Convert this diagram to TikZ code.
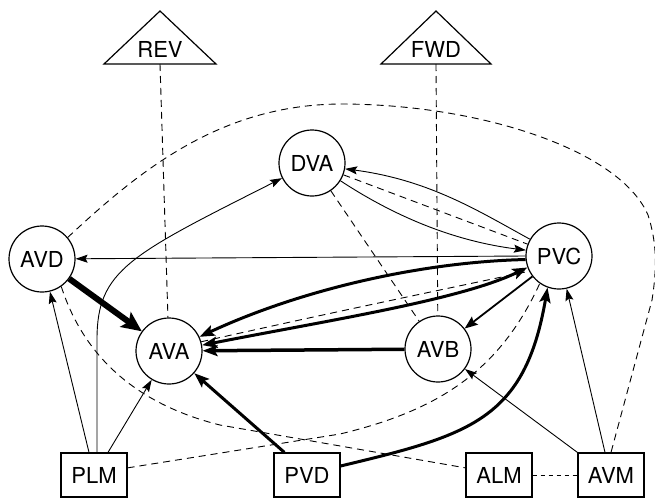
\documentclass[tikz,border=0pt]{standalone}
\usepackage{fontspec}
\setmainfont{TeX Gyre Heros}
\usetikzlibrary{arrows.meta}
\begin{document}
\begin{tikzpicture}[x=1pt,y=-1pt,
    neuron/.style={circle,draw,line width=1.2pt,minimum size=66pt,inner sep=0pt,font=\fontsize{22}{24}\selectfont},
    sensor/.style={rectangle,draw,line width=1.2pt,minimum width=66pt,minimum height=44pt,inner sep=0pt,font=\fontsize{22}{24}\selectfont},
    cmd/.style={font=\fontsize{22}{24}\selectfont},
    syn/.style={line width=0.9pt,-{Stealth[length=12pt,width=8pt,inset=2pt]}},
    strong/.style={line width=3pt,-{Stealth[length=15pt,width=11pt,inset=3pt]}},
    strongboth/.style={line width=3pt,{Stealth[length=15pt,width=11pt,inset=3pt]}-{Stealth[length=15pt,width=11pt,inset=3pt]}},
    gap/.style={line width=0.9pt,dash pattern=on 7pt off 5pt}]
  \useasboundingbox (0,0) rectangle (655,498);
  \node[neuron] (DVA) at (312,163) {DVA};
  \node[neuron] (AVD) at (42,259) {AVD};
  \node[neuron] (PVC) at (559,256) {PVC};
  \node[neuron] (AVA) at (169,351) {AVA};
  \node[neuron] (AVB) at (438,349) {AVB};
  \node[sensor] (PLM) at (94,475) {PLM};
  \node[sensor] (PVD) at (307,475) {PVD};
  \node[sensor] (ALM) at (499,475) {ALM};
  \node[sensor] (AVM) at (611,475) {AVM};
  \node[cmd] (REV) at (160,49) {REV};
  \node[cmd] (FWD) at (436,49) {FWD};
  \draw[line width=1.2pt] (104,64) -- (160,11) -- (216,64) -- cycle;
  \draw[line width=1.2pt] (381,64) -- (436,11) -- (491,64) -- cycle;
  \coordinate (REVb) at (160,64);
  \coordinate (FWDb) at (436,64);
  \draw[gap] (REVb) -- (AVA);
  \draw[gap] (FWDb) -- (AVB);
  \draw[gap] (AVD.40) .. controls (140,170) and (220,105) .. (340,104)
    .. controls (480,104) and (620,150) .. (648,215)
    .. controls (657,243) and (657,268) .. (652,300) -- (AVM.north);
  \draw[syn] (PVC.180) -- (AVD);
  \draw[line width=6pt,-{Stealth[length=20pt,width=18pt,inset=4pt]}] (AVD) -- (AVA);
  \draw[syn] ([xshift=-5pt]PLM.north) -- (AVD);
  \draw[syn] ([xshift=3pt]PLM.north) -- ++(0,-113) .. controls (97,270) and (130,255) .. (DVA);
  \draw[syn] ([xshift=14pt]PLM.north) -- (AVA);
  \draw[gap] (AVD.305) .. controls (85,360) and (140,405) .. (220,425) -- (ALM.168);
  \draw[gap] (PLM.12) -- (340,434) .. controls (440,410) and (500,370) .. (PVC.235);
  \draw[line width=0.6pt,dash pattern=on 4pt off 4pt] (ALM) -- (AVM);
  \draw[strong] (PVD.135) -- (AVA);
  \draw[strong] (PVD.15) .. controls (470,435) and (525,420) .. (PVC.250);
  \draw[syn] (AVM.north west) -- (AVB);
  \draw[syn] ([xshift=-6pt]AVM.north) -- (PVC);
  \draw[line width=1.8pt,-{Stealth[length=13pt,width=10pt,inset=2pt]}] (PVC) -- (AVB);
  \draw[strong,line width=3.5pt] (AVB) -- (AVA);
  \draw[strong] (PVC.186) .. controls (420,262) and (300,290) .. (AVA);
  \draw[strongboth] (AVA.10) .. controls (330,320) and (460,300) .. (PVC.200);
  \draw[gap] (AVA.16) .. controls (320,315) and (440,290) .. (PVC.207);
  \draw[syn] (DVA.328) .. controls (385,210) and (445,240) .. (PVC.170);
  \draw[syn] (PVC.150) .. controls (480,212) and (430,180) .. (DVA.350);
  \draw[gap] (DVA) -- (PVC);
  \draw[gap] (DVA) -- (AVB);
\end{tikzpicture}
\end{document}
